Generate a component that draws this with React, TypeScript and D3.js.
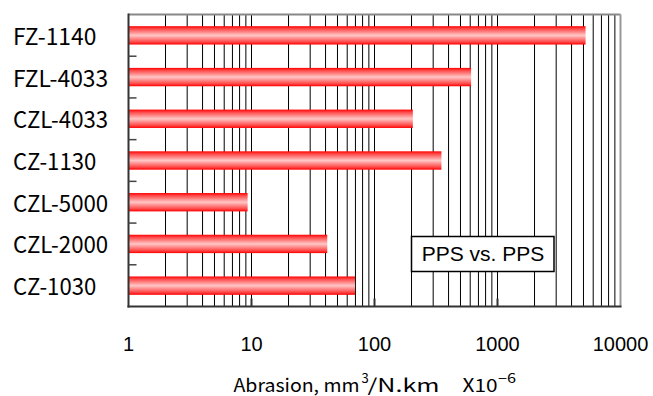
import React from 'react';
import * as d3 from 'd3';

const categories = ['FZ-1140', 'FZL-4033', 'CZL-4033', 'CZ-1130', 'CZL-5000', 'CZL-2000', 'CZ-1030'];
const values = [5200, 610, 205, 350, 9.3, 41.3, 69.5];
const tickValues = [1, 10, 100, 1000, 10000];
const tickLabels = ['1', '10', '100', '1000', '10000'];
const annotation = 'PPS vs. PPS';

export default function App() {
  const W = 653, H = 396;
  const left = 128.5, right = 620.5, top = 14.5, bottom = 306.5;
  const x = d3.scaleLog().domain([1, 10000]).range([left, right]);
  const y = d3.scaleBand<string>().domain(categories).range([top, bottom]).paddingInner(0.56).paddingOuter(0.28);
  const gap = (y.step() - y.bandwidth()) / 2;

  const minor: number[] = [];
  [1, 10, 100, 1000].forEach(d => {
    for (let k = 2; k <= 9; k++) minor.push(d * k);
  });
  const majors = [10, 100, 1000];
  const jp = "'Noto Sans CJK JP', sans-serif";

  return (
    <svg width={W} height={H} style={{ position: 'absolute', left: 0, top: 0, background: '#fff' }}>
      <defs>
        <linearGradient id="barGrad" x1="0" y1="0" x2="0" y2="1">
          <stop offset="0" stopColor="#ff0000" />
          <stop offset="0.15" stopColor="#ff4c4c" />
          <stop offset="0.5" stopColor="#ffc6c6" />
          <stop offset="0.85" stopColor="#ff4c4c" />
          <stop offset="1" stopColor="#ff0000" />
        </linearGradient>
      </defs>
      <rect width={W} height={H} fill="#fff" />
      {minor.concat(majors).map((v, i) => (
        <line key={'g' + i} x1={x(v)} x2={x(v)} y1={top} y2={bottom} stroke="#000" strokeWidth={1} />
      ))}
      <line x1={left} x2={right} y1={top} y2={top} stroke="#888" strokeWidth={2} />
      <line x1={right} x2={right} y1={top} y2={bottom} stroke="#999" strokeWidth={2} />
      {categories.map((c, i) => (
        <rect key={'b' + i} x={x(1)} y={y(c)!} width={x(values[i]) - x(1)} height={y.bandwidth()} fill="url(#barGrad)" />
      ))}
      <line x1={left} x2={left} y1={top - 1} y2={bottom + 1} stroke="#333" strokeWidth={2} />
      {categories.slice(1).map((c, i) => (
        <line key={'t' + i} x1={left} x2={left + 8} y1={y(c)! - gap} y2={y(c)! - gap} stroke="#444" strokeWidth={1.5} />
      ))}
      <line x1={left - 1} x2={right + 1} y1={bottom} y2={bottom} stroke="#333" strokeWidth={2} />
      {majors.map((v, i) => (
        <line key={'mt' + i} x1={x(v)} x2={x(v)} y1={bottom - 8} y2={bottom} stroke="#333" strokeWidth={2} />
      ))}
      {categories.map((c, i) => (
        <text key={'yl' + i} x={13} y={y(c)! + y.bandwidth() / 2 + 9.5} fontFamily={jp} fontSize={23}
          textLength={c.length * 11.9} lengthAdjust="spacingAndGlyphs" fill="#000">{c}</text>
      ))}
      {tickValues.map((v, i) => (
        <text key={'xl' + i} x={x(v)} y={351} textAnchor="middle" fontFamily="'Liberation Sans', Arial, sans-serif" fontSize={20} fill="#000">{tickLabels[i]}</text>
      ))}
      {/* axis title */}
      <g fontFamily={jp} fill="#000">
        <text x={233.5} y={392} fontSize={18} textLength={126} lengthAdjust="spacingAndGlyphs">Abrasion, mm</text>
        <text x={361.5} y={383} fontSize={13}>3</text>
        <text x={367.5} y={392} fontSize={18} textLength={72} lengthAdjust="spacingAndGlyphs">/N.km</text>
        <text x={462.5} y={392} fontSize={18} textLength={35} lengthAdjust="spacingAndGlyphs">X10</text>
        <text x={498} y={383} fontSize={13} textLength={18} lengthAdjust="spacingAndGlyphs">−6</text>
      </g>
      <rect x={411.5} y={236.5} width={142.5} height={35} fill="#fff" stroke="#000" strokeWidth={1.5} />
      <text x={483} y={261} textAnchor="middle" fontFamily="'Liberation Sans', Arial, sans-serif" fontSize={21} fill="#000">{annotation}</text>
    </svg>
  );
}
